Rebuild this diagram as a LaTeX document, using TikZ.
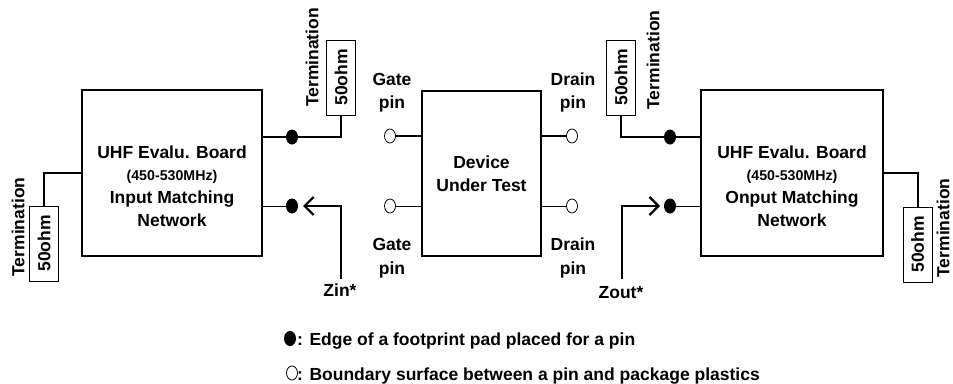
\documentclass[tikz,border=0pt]{standalone}
\usepackage{fontspec}
\setmainfont{Liberation Sans}
\usetikzlibrary{arrows.meta,shapes.geometric}
\begin{document}
\begin{tikzpicture}[x=1pt,y=-1pt,
  font=\fontsize{17.5}{21}\selectfont\bfseries,
  board/.style={draw, line width=2.6pt, inner sep=0pt},
  res/.style={draw, line width=0.9pt, rotate=90, inner sep=0pt, minimum width=75pt, minimum height=29pt},
  rlabel/.style={rotate=90, inner sep=0pt},
  txt/.style={anchor=base, inner sep=0pt},
  small/.style={anchor=base, inner sep=0pt, font=\fontsize{14.2}{17}\selectfont\bfseries},
  pad/.style={ellipse, fill=black, inner sep=0pt, minimum width=12pt, minimum height=15pt},
  pinc/.style={ellipse, draw, fill=white, line width=0.8pt, inner sep=0pt, minimum width=11pt, minimum height=14pt},
  thick wire/.style={line width=2pt},
  thin wire/.style={line width=1pt},
  zarrow/.style={line width=2.2pt, -{Straight Barb[length=9pt,width=18pt]}}]
\useasboundingbox (0,0) rectangle (953,383);

% boards
\node[board, minimum width=180pt, minimum height=166pt] (lb) at (172,173) {};
\node[board, minimum width=182pt, minimum height=166pt] (rb) at (792,173) {};
\node[board, minimum width=119pt, minimum height=165pt] (dut) at (481.5,173.5) {};

% board texts
\node[txt] (lb1) at (172,158) {UHF Evalu. Board};
\node[small] (lb2) at (172,180) {(450-530MHz)};
\node[txt] (lb3) at (172,203) {Input Matching};
\node[txt] (lb4) at (172,226) {Network};
\node[txt] (rb1) at (792,158) {UHF Evalu. Board};
\node[small] (rb2) at (792,180) {(450-530MHz)};
\node[txt] (rb3) at (792,203) {Onput Matching};
\node[txt] (rb4) at (792,226) {Network};
\node[txt] (d1) at (481.5,168) {Device};
\node[txt] (d2) at (481.5,191) {Under Test};

% terminations
\node[res] (tL) at (44,243.5) {50ohm};
\node[res] (tA) at (341,77.5) {50ohm};
\node[res] (tB) at (621,77.5) {50ohm};
\node[res] (tR) at (917.5,244.5) {50ohm};
\node[rlabel] (tLl) at (18,227) {Termination};
\node[rlabel] (tAl) at (312,57.5) {Termination};
\node[rlabel] (tBl) at (653,60) {Termination};
\node[rlabel] (tRl) at (943,228) {Termination};

% pads
\node[pad] (ld1) at (292,137) {};
\node[pad] (ld2) at (292,206) {};
\node[pad] (rd1) at (670,137) {};
\node[pad] (rd2) at (670,206) {};

% pins
\node[pinc] (g1) at (390,136) {};
\node[pinc] (g2) at (390,206) {};
\node[pinc] (p1) at (572,136) {};
\node[pinc] (p2) at (572,206) {};

% pin labels
\node[txt] (gl1) at (392,85) {Gate};
\node[txt] (gl2) at (392,108) {pin};
\node[txt] (gl3) at (392,250) {Gate};
\node[txt] (gl4) at (392,274) {pin};
\node[txt] (dl1) at (573,85) {Drain};
\node[txt] (dl2) at (573,108) {pin};
\node[txt] (dl3) at (573,250) {Drain};
\node[txt] (dl4) at (573,274) {pin};

% wires
\draw[thick wire] (lb.west) -| (tL.east);
\draw[thick wire] (lb.east |- ld1) -- (ld1.center) -| (tA.west);
\draw[thin wire] (lb.east |- ld2) -- (ld2);
\draw[thick wire] (rb.west |- rd1) -- (rd1.center) -| (tB.west);
\draw[thin wire] (rb.west |- rd2) -- (rd2);
\draw[thick wire] (rb.east) -| (tR.east);
\draw[thick wire] (g1) -- (dut.west |- g1);
\draw[thin wire] (g2) -- (dut.west |- g2);
\draw[thick wire] (p1) -- (dut.east |- p1);
\draw[thin wire] (p2) -- (dut.east |- p2);

% Zin / Zout
\coordinate (zinS) at (341,279);
\coordinate (zinT) at (303,206);
\coordinate (zoutS) at (622,279);
\coordinate (zoutT) at (660,206);
\draw[zarrow] (zinS) |- (zinT);
\draw[zarrow] (zoutS) |- (zoutT);
\node[txt] (zin) at (340,296) {Zin*};
\node[txt] (zout) at (621,298) {Zout*};

% legend
\node[pad] (k1) at (290,338.5) {};
\node[txt, anchor=base west] (k1t) at (297,345) {: Edge of a footprint pad placed for a pin};
\node[pinc] (k2) at (292,373) {};
\node[txt, anchor=base west] (k2t) at (297,380) {: Boundary surface between a pin and package plastics};
\end{tikzpicture}
\end{document}
